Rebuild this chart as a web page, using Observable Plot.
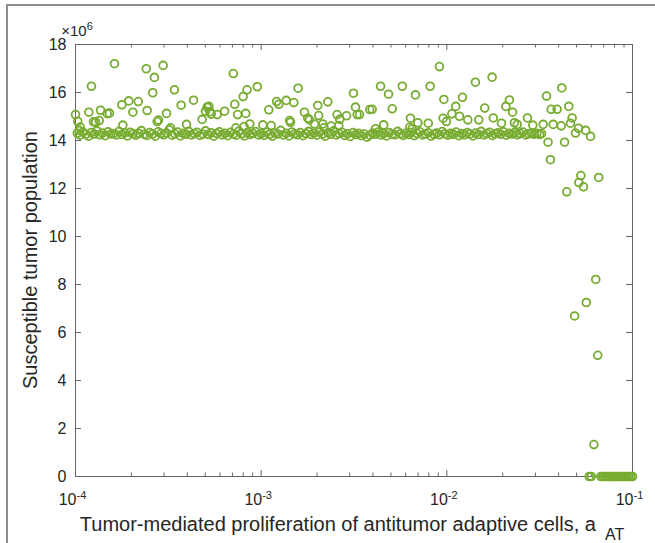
<!DOCTYPE html>
<html><head><meta charset="utf-8">
<script src="https://cdn.jsdelivr.net/npm/d3@7"></script>
<script src="https://cdn.jsdelivr.net/npm/@observablehq/plot@0.6"></script>
<style>
body{margin:0;background:#fff;}
#wrap{position:relative;width:655px;height:543px;overflow:hidden;background:#fff;}
#wrap svg{position:absolute;left:0;top:0;}
#edge{position:absolute;left:6px;top:4px;width:700px;height:600px;border-left:2px solid #8e8e8e;border-top:2px solid #8e8e8e;pointer-events:none;}
</style></head><body><div id="wrap"><div id="edge"></div></div>
<script>
// x: log10 of a_AT ; y: susceptible tumor population in units of 10^6
const bandLow = [[-3.990,14.30],[-3.975,14.22],[-3.960,14.35],[-3.945,14.26],[-3.930,14.18],[-3.915,14.33],[-3.900,14.27],[-3.885,14.40],[-3.870,14.24],[-3.855,14.31],[-3.840,14.20],[-3.825,14.36],[-3.810,14.27],[-3.795,14.29],[-3.780,14.23],[-3.765,14.38],[-3.750,14.25],[-3.735,14.32],[-3.720,14.19],[-3.705,14.34],[-3.690,14.28],[-3.675,14.22],[-3.660,14.30],[-3.645,14.41],[-3.630,14.26],[-3.615,14.21],[-3.600,14.33],[-3.585,14.27],[-3.570,14.18],[-3.555,14.36],[-3.540,14.29],[-3.525,14.24],[-3.510,14.31],[-3.495,14.45],[-3.480,14.22],[-3.465,14.28],[-3.450,14.35],[-3.435,14.19],[-3.420,14.30],[-3.405,14.26],[-3.390,14.38],[-3.375,14.23],[-3.360,14.29],[-3.345,14.34],[-3.330,14.21],[-3.315,14.27],[-3.300,14.40],[-3.285,14.25],[-3.270,14.32],[-3.255,14.18],[-3.240,14.29],[-3.225,14.36],[-3.210,14.24],[-3.195,14.30],[-3.180,14.20],[-3.165,14.34],[-3.150,14.27],[-3.135,14.22],[-3.120,14.39],[-3.105,14.28],[-3.090,14.19],[-3.075,14.33],[-3.060,14.25],[-3.045,14.30],[-3.030,14.37],[-3.015,14.23]];
const bandMid = [[-3.000,14.29],[-2.985,14.21],[-2.970,14.34],[-2.955,14.26],[-2.940,14.18],[-2.925,14.31],[-2.910,14.27],[-2.895,14.42],[-2.880,14.23],[-2.865,14.30],[-2.850,14.19],[-2.835,14.35],[-2.820,14.28],[-2.805,14.24],[-2.790,14.33],[-2.775,14.20],[-2.760,14.29],[-2.745,14.38],[-2.730,14.25],[-2.715,14.31],[-2.700,14.22],[-2.685,14.36],[-2.670,14.27],[-2.655,14.18],[-2.640,14.32],[-2.625,14.26],[-2.610,14.40],[-2.595,14.23],[-2.580,14.29],[-2.565,14.34],[-2.550,14.21],[-2.535,14.28],[-2.520,14.17],[-2.505,14.33],[-2.490,14.25],[-2.475,14.30],[-2.460,14.20],[-2.445,14.27],[-2.430,14.14],[-2.415,14.22],[-2.400,14.31],[-2.385,14.26],[-2.370,14.35],[-2.355,14.23],[-2.340,14.29],[-2.325,14.19],[-2.310,14.33],[-2.295,14.27],[-2.280,14.24],[-2.265,14.38],[-2.250,14.28],[-2.235,14.21],[-2.220,14.30],[-2.205,14.25],[-2.190,14.34],[-2.175,14.20],[-2.160,14.29],[-2.145,14.36],[-2.130,14.23],[-2.115,14.27],[-2.100,14.32],[-2.085,14.18],[-2.070,14.26],[-2.055,14.31],[-2.040,14.24],[-2.025,14.37],[-2.010,14.28]];
const bandHigh = [[-1.995,14.22],[-1.980,14.30],[-1.965,14.26],[-1.950,14.35],[-1.935,14.20],[-1.920,14.29],[-1.905,14.24],[-1.890,14.33],[-1.875,14.27],[-1.860,14.19],[-1.845,14.31],[-1.830,14.25],[-1.815,14.38],[-1.800,14.23],[-1.785,14.29],[-1.770,14.34],[-1.755,14.21],[-1.740,14.28],[-1.725,14.32],[-1.710,14.26],[-1.695,14.36],[-1.680,14.22],[-1.665,14.30],[-1.650,14.27],[-1.635,14.33],[-1.620,14.24],[-1.605,14.29],[-1.590,14.35],[-1.575,14.23],[-1.560,14.28],[-1.545,14.31],[-1.530,14.26],[-1.515,14.30],[-1.500,14.25],[-1.490,14.29]];
const spreadLow = [[-4.000,15.08],[-3.988,14.80],[-3.975,14.56],[-3.980,14.42],[-3.928,15.18],[-3.914,16.26],[-3.903,14.78],[-3.892,14.76],[-3.865,15.26],[-3.872,14.83],[-3.829,15.12],[-3.817,15.14],[-3.790,17.20],[-3.750,15.49],[-3.745,14.64],[-3.713,15.65],[-3.691,15.18],[-3.662,15.62],[-3.619,16.99],[-3.614,15.25],[-3.584,15.99],[-3.575,16.63],[-3.560,14.79],[-3.553,14.85],[-3.528,17.13],[-3.510,15.13],[-3.488,14.53],[-3.467,16.11],[-3.431,15.47],[-3.402,14.67],[-3.364,15.68],[-3.318,14.88],[-3.300,15.22],[-3.291,15.39],[-3.282,15.42],[-3.276,15.20],[-3.269,15.10],[-3.237,15.08],[-3.197,15.22],[-3.150,16.79],[-3.142,15.51],[-3.136,14.53],[-3.127,15.08],[-3.097,15.83],[-3.092,14.58],[-3.083,15.13],[-3.076,16.11],[-3.061,14.69],[-3.021,16.24]];
const spreadMid = [[-2.991,14.65],[-2.946,14.62],[-2.959,15.28],[-2.917,15.62],[-2.905,15.51],[-2.865,15.67],[-2.847,14.83],[-2.842,14.76],[-2.824,15.58],[-2.801,16.18],[-2.767,15.18],[-2.749,14.93],[-2.740,14.86],[-2.713,14.69],[-2.695,15.46],[-2.690,15.04],[-2.668,14.69],[-2.662,14.53],[-2.641,15.61],[-2.623,14.60],[-2.591,15.08],[-2.582,14.62],[-2.577,14.88],[-2.540,15.03],[-2.503,15.97],[-2.492,15.39],[-2.483,15.08],[-2.470,15.08],[-2.415,15.29],[-2.402,15.30],[-2.384,14.49],[-2.357,16.26],[-2.340,14.65],[-2.314,15.93],[-2.294,15.32],[-2.240,16.26],[-2.200,14.55],[-2.196,14.93],[-2.187,14.49],[-2.169,15.90],[-2.156,14.74],[-2.100,14.72],[-2.090,16.26],[-2.040,17.08],[-2.016,15.71],[-2.020,14.93],[-2.002,14.79]];
const spreadHigh = [[-1.973,15.11],[-1.952,15.42],[-1.932,15.01],[-1.916,15.80],[-1.887,14.86],[-1.846,16.43],[-1.828,14.86],[-1.796,15.35],[-1.756,16.64],[-1.750,14.94],[-1.706,14.72],[-1.682,15.42],[-1.663,15.69],[-1.646,15.18],[-1.636,14.74],[-1.621,14.67],[-1.566,14.94],[-1.537,14.64],[-1.481,14.67],[-1.463,15.85],[-1.455,13.93],[-1.442,13.20],[-1.438,15.30],[-1.427,14.67],[-1.406,15.30],[-1.384,14.61],[-1.381,16.19],[-1.366,13.93],[-1.354,11.86],[-1.343,15.42],[-1.334,14.72],[-1.325,14.94],[-1.307,14.31],[-1.291,14.51],[-1.252,14.42],[-1.226,14.17]];
const dropOff = [[-1.312,6.69],[-1.289,12.25],[-1.278,12.54],[-1.264,12.07],[-1.249,7.25],[-1.208,1.33],[-1.198,8.21],[-1.187,5.05],[-1.182,12.46]];
const zeroTail = [[-1.233,0],[-1.222,0],[-1.170,0],[-1.160,0],[-1.150,0],[-1.140,0],[-1.130,0],[-1.120,0],[-1.110,0],[-1.100,0],[-1.090,0],[-1.080,0],[-1.070,0],[-1.060,0],[-1.050,0],[-1.040,0],[-1.030,0],[-1.020,0],[-1.010,0],[-1.000,0]];

const xMajorTicks = [1e-4, 1e-3, 1e-2, 1e-1];
const xMinorTicks = [2e-4,3e-4,4e-4,5e-4,6e-4,7e-4,8e-4,9e-4,2e-3,3e-3,4e-3,5e-3,6e-3,7e-3,8e-3,9e-3,2e-2,3e-2,4e-2,5e-2,6e-2,7e-2,8e-2,9e-2];
const yTicks = [0,2,4,6,8,10,12,14,16,18];
const xLabel = "Tumor-mediated proliferation of antitumor adaptive cells, a";
const xLabelSub = "AT";
const yLabel = "Susceptible tumor population";

const points = [...bandLow, ...bandMid, ...bandHigh, ...spreadLow, ...spreadMid, ...spreadHigh, ...dropOff, ...zeroTail]
  .map(([e, s]) => ({a: Math.pow(10, e), S: s}));

const W = 655, H = 543, mL = 75, mR = 23, mT = 44, mB = 67;
const iW = W - mL - mR, iH = H - mT - mB;
const axisCol = "#666666";
const font = "'Liberation Sans', Arial, Helvetica, sans-serif";

const svg = Plot.plot({
  width: W, height: H,
  marginLeft: mL, marginRight: mR, marginTop: mT, marginBottom: mB,
  x: {type: "log", domain: [1e-4, 1e-1]},
  y: {domain: [0, 18]},
  style: {fontFamily: font, fontSize: "16px", color: "#262626", background: "transparent", overflow: "visible"},
  marks: [
    Plot.frame({stroke: axisCol, strokeWidth: 1}),
    Plot.tickX(xMajorTicks, {x: d => d, insetTop: iH - 6, stroke: axisCol}),
    Plot.tickX(xMajorTicks, {x: d => d, insetBottom: iH - 6, stroke: axisCol}),
    Plot.tickX(xMinorTicks, {x: d => d, insetTop: iH - 3.5, stroke: axisCol}),
    Plot.tickX(xMinorTicks, {x: d => d, insetBottom: iH - 3.5, stroke: axisCol}),
    Plot.tickY(yTicks, {y: d => d, insetRight: iW - 6, stroke: axisCol}),
    Plot.tickY(yTicks, {y: d => d, insetLeft: iW - 6, stroke: axisCol}),
    Plot.dot(points, {x: "a", y: "S", r: 3.9, stroke: "#77AC30", strokeWidth: 1.8, fill: "none"}),
    Plot.axisX({ticks: xMajorTicks, tickSize: 0, tickPadding: 17, dx: -3,
      tickFormat: d => String(Math.round(Math.log10(d))), label: null}),
    Plot.axisY({ticks: yTicks, tickSize: 0, tickPadding: 9, tickFormat: d => String(d), label: null})
  ]
});

const s = d3.select(svg);
s.selectAll('g[aria-label="x-axis tick label"], g[aria-label="y-axis tick label"]')
  .attr("font-size", 16).attr("font-family", font).attr("fill", "#262626");
s.selectAll('g[aria-label="x-axis tick label"] text').each(function () {
  const t = d3.select(this);
  const e = t.text();
  t.text(null);
  t.attr("font-size", 16);
  t.append("tspan").attr("font-size", "16px").text("10");
  t.append("tspan").attr("dy", "-0.55em").attr("font-size", "11px").text(e);
});
s.selectAll('g[aria-label="y-axis tick label"] text').attr("font-size", 16);
// exponent multiplier
const mult = s.append("text").attr("x", 77).attr("y", 36).attr("font-family", font).attr("font-size", 15).attr("fill", "#262626");
mult.append("tspan").text("\u00d710");
mult.append("tspan").attr("dy", "-0.55em").attr("font-size", "11px").text("6");
// x label
const xl = s.append("text").attr("x", 352).attr("y", 531).attr("text-anchor", "middle")
  .attr("font-family", font).attr("font-size", 20).attr("fill", "#262626");
xl.append("tspan").text(xLabel);
xl.append("tspan").attr("dx", 9).attr("dy", 9).attr("font-size", 16).text(xLabelSub);
// y label
s.append("text").attr("transform", `translate(37,${mT + iH / 2}) rotate(-90)`).attr("text-anchor", "middle")
  .attr("font-family", font).attr("font-size", 20).attr("fill", "#262626").text(yLabel);

document.getElementById("wrap").insertBefore(svg, document.getElementById("edge"));
</script>
</body></html>
